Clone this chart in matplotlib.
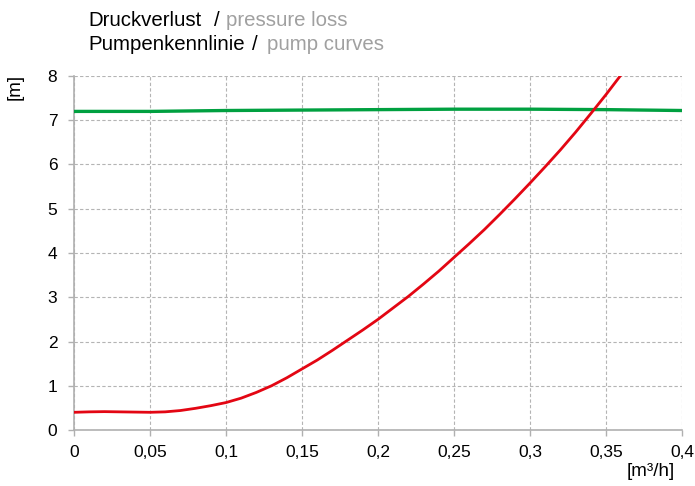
import matplotlib.pyplot as plt
from matplotlib.ticker import FuncFormatter

plt.rcParams["font.family"] = ["Liberation Sans", "DejaVu Sans"]

# pressure loss curve (red)
flowLoss = [0, 0.01, 0.02, 0.03, 0.04, 0.05, 0.06, 0.07, 0.08, 0.09, 0.10,
            0.11, 0.12, 0.13, 0.14, 0.15, 0.16, 0.17, 0.18, 0.19, 0.20,
            0.21, 0.22, 0.23, 0.24, 0.25, 0.26, 0.27, 0.28, 0.29, 0.30,
            0.31, 0.32, 0.33, 0.34, 0.35, 0.36]
headLoss = [0.40, 0.41, 0.415, 0.41, 0.405, 0.40, 0.41, 0.44, 0.49, 0.55, 0.62,
            0.72, 0.85, 1.00, 1.18, 1.38, 1.58, 1.80, 2.03, 2.26, 2.50,
            2.76, 3.02, 3.30, 3.59, 3.90, 4.21, 4.53, 4.87, 5.22, 5.58,
            5.95, 6.33, 6.73, 7.15, 7.58, 8.03]

# pump curve (green)
flowPump = [0, 0.05, 0.1, 0.15, 0.2, 0.25, 0.3, 0.35, 0.4]
headPump = [7.20, 7.20, 7.22, 7.23, 7.24, 7.25, 7.25, 7.24, 7.22]

xTicks = [0, 0.05, 0.1, 0.15, 0.2, 0.25, 0.3, 0.35, 0.4]
yTicks = [0, 1, 2, 3, 4, 5, 6, 7, 8]

fig = plt.figure(figsize=(6.95, 4.86), dpi=100)
ax = fig.add_axes([74/695, 56/486, 608/695, 354/486])

ax.plot(flowPump, headPump, color="#00a040", lw=2.4, zorder=3)
ax.plot(flowLoss, headLoss, color="#e30613", lw=2, zorder=4)

ax.set_xlim(0, 0.4)
ax.set_ylim(0, 8)
ax.set_xticks(xTicks)
ax.set_yticks(yTicks)
ax.xaxis.set_major_formatter(FuncFormatter(lambda v, p: ("%g" % v).replace(".", ",")))
ax.grid(True, color="#b4b4b4", ls=(0, (3, 2)), lw=0.8)
ax.set_axisbelow(True)

for s in ["top", "right"]:
    ax.spines[s].set_visible(False)
for s in ["left", "bottom"]:
    ax.spines[s].set_color("#b0b0b0")
    ax.spines[s].set_linewidth(1.2)
ax.tick_params(colors="#b0b0b0", labelcolor="black", labelsize=12.5, length=4, width=1)
ax.tick_params(axis="x", pad=7)
ax.tick_params(axis="y", pad=8)

fs = 14.7
fig.text(88/695, 1 - 20/486, "Druckverlust", fontsize=fs, va="center", ha="left")
fig.text(214/695, 1 - 20/486, "/", fontsize=fs, va="center", ha="left")
fig.text(226/695, 1 - 20/486, "pressure loss", fontsize=fs, va="center", ha="left", color="#a0a0a0")
fig.text(88/695, 1 - 45/486, "Pumpenkennlinie", fontsize=fs, va="center", ha="left")
fig.text(252/695, 1 - 45/486, "/", fontsize=fs, va="center", ha="left")
fig.text(267/695, 1 - 45/486, "pump curves", fontsize=fs, va="center", ha="left", color="#a0a0a0")

fig.text(15/695, 1 - 87/486, "[m]", fontsize=13.5, rotation=90, va="center", ha="center")
fig.text(651/695, 1 - 471/486, "[m³/h]", fontsize=13.5, va="center", ha="center")

fig.savefig("out.png", dpi=100)
